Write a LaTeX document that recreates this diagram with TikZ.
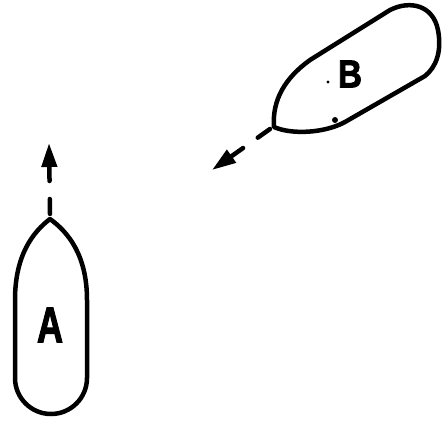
\documentclass[tikz,border=0pt]{standalone}
\usepackage{fontspec}
\setmainfont{Liberation Sans}
\newfontfamily\shipfont[BoldFeatures={FakeBold=2.5}]{Liberation Sans}
\usetikzlibrary{arrows.meta}
\begin{document}
\begin{tikzpicture}[x=1pt,y=-1pt,
  hull/.style={line width=4.5pt, line join=round},
  course/.style={line width=4.5pt, line cap=round, dash pattern=on 15pt off 18pt on 80pt,
    -{Triangle[length=24pt,width=15pt]}},
  shiplabel/.style={inner sep=0pt}]
\useasboundingbox (0,0) rectangle (442,421);
% Ship A
\draw[hull] (50,219) .. controls (68,232) and (87,255) .. (87,300)
  -- (87,378) arc[start angle=0, end angle=180, radius=36] -- (15,300)
  .. controls (15,255) and (33,232) .. (50,219) -- cycle;
\coordinate (bowA) at (50,214);
\coordinate (headA) at (49,143);
\node[shiplabel] (labA) at (50,325) {\shipfont\bfseries\fontsize{50}{50}\selectfont\scalebox{0.72}[1]{A}};
% Ship B
\draw[hull] (274,127) .. controls (272,100) and (285,78) .. (310,60)
  -- (390,10) .. controls (410,0) and (433,5) .. (438,30)
  .. controls (442,52) and (436,67) .. (425,76)
  -- (345,122) .. controls (325,133) and (292,135) .. (274,127) -- cycle;
\coordinate (bowB) at (270,129);
\coordinate (headB) at (212,170);
\node[shiplabel] (labB) at (350,74) {\shipfont\bfseries\fontsize{39}{39}\selectfont\scalebox{0.85}[1]{B}};
\fill (328,82) circle[radius=1.6];
\fill (335,120) circle[radius=3];
% courses
\draw[course] (bowA) -- (headA);
\draw[course] (bowB) -- (headB);
\end{tikzpicture}
\end{document}
